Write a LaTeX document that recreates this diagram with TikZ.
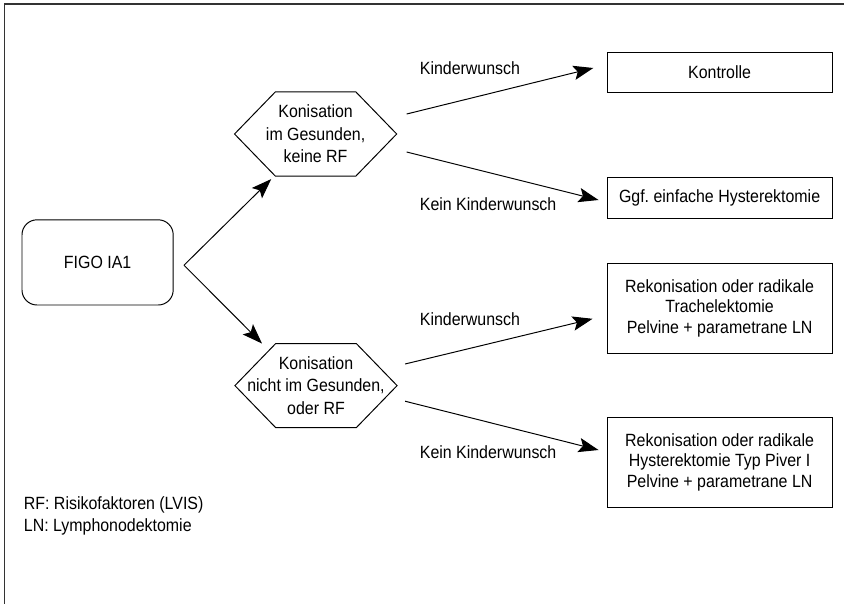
\documentclass[tikz,border=0pt]{standalone}
\usepackage{fontspec}
\setmainfont{Liberation Sans}[FakeStretch=0.9]
\usepackage{tikz}
\usetikzlibrary{arrows.meta}

% hexagon outline drawn around a (borderless) node
\newcommand{\hexoutline}[1]{%
  \draw[line width=0.7pt] (#1.west) -- ([xshift=1.02cm]#1.north west) -- ([xshift=-1.02cm]#1.north east)
    -- (#1.east) -- ([xshift=-1.02cm]#1.south east) -- ([xshift=1.02cm]#1.south west) -- cycle;}

\begin{document}
\begin{tikzpicture}[
    every node/.style={font=\fontsize{12.6pt}{14.9pt}\selectfont, inner sep=2pt},
    box/.style={draw, line width=0.7pt, minimum width=5.63cm, align=center},
    startbox/.style={draw, line width=0.7pt, rounded corners=0.375cm, minimum width=3.78cm, minimum height=2.13cm},
    hexbox/.style={minimum width=4.04cm, minimum height=2.09cm, align=center, inner sep=0pt,
                   font=\fontsize{12.6pt}{16pt}\selectfont},
    arr/.style={line width=0.7pt, -{Stealth[length=0.5cm, width=0.36cm, inset=0.1cm]}}
]
\useasboundingbox (0,0) rectangle (21.1,-15.1);

% frame
\draw[line width=0.9pt, black!80] (0.11,-15.1) -- (0.11,-0.1) -- (21.1,-0.1);

\node[startbox] (figo) at (2.44,-6.56) {FIGO IA1};
\coordinate (fork) at (4.6,-6.63);

\node[hexbox] (hexA) at (7.89,-3.35) {Konisation\\im Gesunden,\\keine RF};
\node[hexbox] (hexB) at (7.9,-9.64) {Konisation\\nicht im Gesunden,\\oder RF};
\hexoutline{hexA}
\hexoutline{hexB}

\node[box, minimum height=1.0cm] (kontrolle) at (17.99,-1.8) {Kontrolle};
\node[box, minimum height=1.03cm] (ggf) at (17.99,-4.94) {Ggf.\ einfache Hysterektomie};
\node[box, minimum height=2.23cm] (rekA) at (17.99,-7.71)
    {Rekonisation oder radikale\\Trachelektomie\\Pelvine + parametrane LN};
\node[box, minimum height=2.23cm] (rekB) at (17.99,-11.56)
    {Rekonisation oder radikale\\Hysterektomie Typ Piver I\\Pelvine + parametrane LN};

\draw[arr] (fork) -- ([shift={(-1.11,-0.075)}]hexA.south);
\draw[arr] (fork) -- ([shift={(-1.35,0)}]hexB.north);

\draw[arr] ([shift={(0.25,0.5)}]hexA.east) -- ([shift={(-0.33,0.1)}]kontrolle.west);
\draw[arr] ([shift={(0.25,-0.45)}]hexA.east) -- ([shift={(-0.2,-0.06)}]ggf.west);
\draw[arr] ([shift={(0.2,0.54)}]hexB.east) -- ([shift={(-0.35,-0.26)}]rekA.west);
\draw[arr] ([shift={(0.2,-0.39)}]hexB.east) -- ([shift={(-0.2,0.31)}]rekB.west);

\node[anchor=west] (kwA) at (10.42,-1.7) {Kinderwunsch};
\node[anchor=west] (kkA) at (10.42,-5.1) {Kein Kinderwunsch};
\node[anchor=west] (kwB) at (10.42,-7.98) {Kinderwunsch};
\node[anchor=west] (kkB) at (10.42,-11.3) {Kein Kinderwunsch};

\node[anchor=west, align=left, font=\fontsize{12.6pt}{15.6pt}\selectfont] (legend) at (0.52,-12.9)
    {RF: Risikofaktoren (LVIS)\\LN: Lymphonodektomie};
\end{tikzpicture}
\end{document}
